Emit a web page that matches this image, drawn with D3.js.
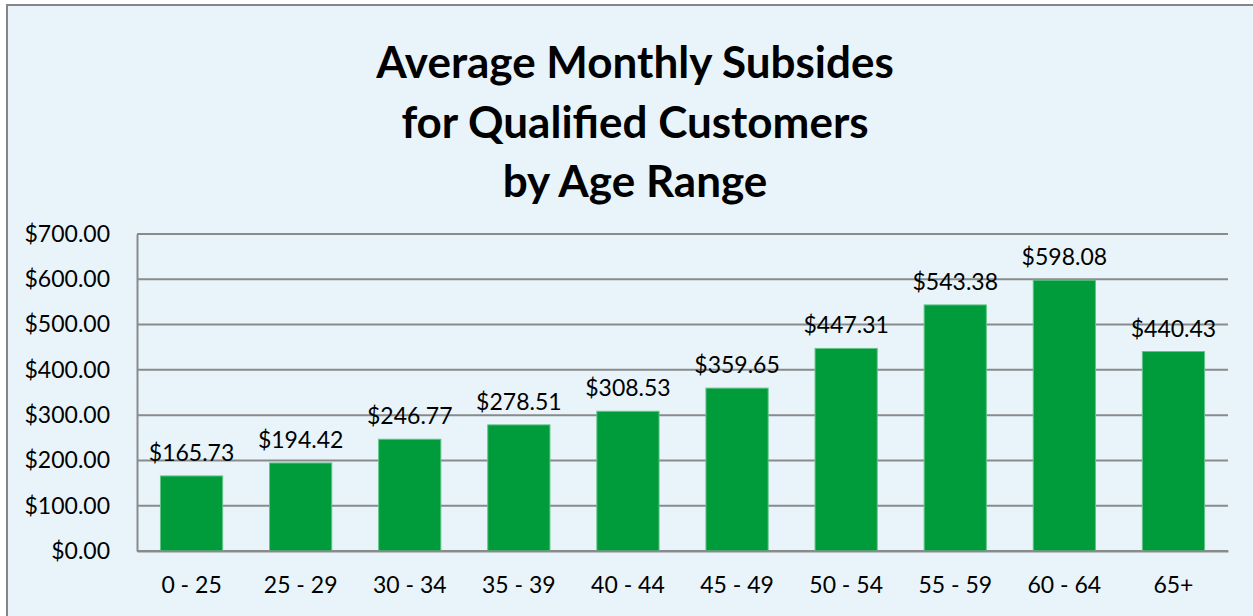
<!DOCTYPE html>
<html>
<head>
<meta charset="utf-8">
<style>
  body { margin: 0; background: #fff; }
  svg { display: block; }
  text { font-family: Lato, "Open Sans", sans-serif; fill: #000; }
</style>
</head>
<body>
<div id="chart"></div>
<script src="https://d3js.org/d3.v7.min.js"></script>
<script>
// chart data
var ageRanges = ["0 - 25", "25 - 29", "30 - 34", "35 - 39", "40 - 44", "45 - 49", "50 - 54", "55 - 59", "60 - 64", "65+"];
var subsidies = [165.73, 194.42, 246.77, 278.51, 308.53, 359.65, 447.31, 543.38, 598.08, 440.43];
var yTicks = [0, 100, 200, 300, 400, 500, 600, 700];
var titleLines = ["Average Monthly Subsides", "for Qualified Customers", "by Age Range"];

var width = 1253, height = 616;
var margin = {top: 234, right: 25, bottom: 65, left: 137};

var svg = d3.select("#chart").append("svg")
    .attr("width", width)
    .attr("height", height);

// chart frame (runs off the right and bottom edge)
svg.append("rect")
    .attr("x", 7).attr("y", 5)
    .attr("width", width + 20).attr("height", height + 20)
    .attr("fill", "#e8f4fa")
    .attr("stroke", "#858585")
    .attr("stroke-width", 2);

var x = d3.scaleBand()
    .domain(ageRanges)
    .range([margin.left, width - margin.right])
    .paddingInner(0.43)
    .paddingOuter(0.215);

var y = d3.scaleLinear()
    .domain([0, 700])
    .range([height - margin.bottom, margin.top]);

var fmt = d3.format("$,.2f");

// gridlines
svg.append("g")
  .selectAll("line")
  .data(yTicks)
  .join("line")
    .attr("x1", margin.left)
    .attr("x2", width - margin.right)
    .attr("y1", d => y(d))
    .attr("y2", d => y(d))
    .attr("stroke", "#8a8a8a")
    .attr("stroke-width", 2);

// y axis
var yAxis = svg.append("g")
    .attr("transform", `translate(${margin.left},0)`)
    .call(d3.axisLeft(y).tickValues(yTicks).tickFormat(fmt).tickSize(0).tickPadding(27));
yAxis.select(".domain").attr("stroke", "#8a8a8a").attr("stroke-width", 2);
yAxis.selectAll("text")
    .style("font-family", "Lato, sans-serif")
    .style("font-size", "23px")
    .attr("fill", "#000");

// bars
svg.append("g")
  .selectAll("rect")
  .data(subsidies)
  .join("rect")
    .attr("x", (d, i) => x(ageRanges[i]))
    .attr("y", d => y(d))
    .attr("width", x.bandwidth())
    .attr("height", d => y(0) - y(d))
    .attr("fill", "#009b3a")
    .attr("stroke", "#62c486")
    .attr("stroke-width", 1);

// x axis
var xAxis = svg.append("g")
    .attr("transform", `translate(0,${y(0)})`)
    .call(d3.axisBottom(x).tickSize(0).tickPadding(26));
xAxis.select(".domain").attr("stroke", "#8a8a8a").attr("stroke-width", 2);
xAxis.selectAll("text")
    .style("font-family", "Lato, sans-serif")
    .style("font-size", "23px")
    .attr("fill", "#000");

// value labels
svg.append("g")
  .selectAll("text")
  .data(subsidies)
  .join("text")
    .attr("x", (d, i) => x(ageRanges[i]) + x.bandwidth() / 2)
    .attr("y", d => y(d) - 15)
    .attr("text-anchor", "middle")
    .style("font-size", "23px")
    .text(d => fmt(d));

// title
svg.append("g")
  .selectAll("text")
  .data(titleLines)
  .join("text")
    .attr("x", 635)
    .attr("y", (d, i) => 78 + i * 59.5)
    .attr("text-anchor", "middle")
    .style("font-size", "44px")
    .style("font-weight", "bold")
    .text(d => d);
</script>
</body>
</html>
